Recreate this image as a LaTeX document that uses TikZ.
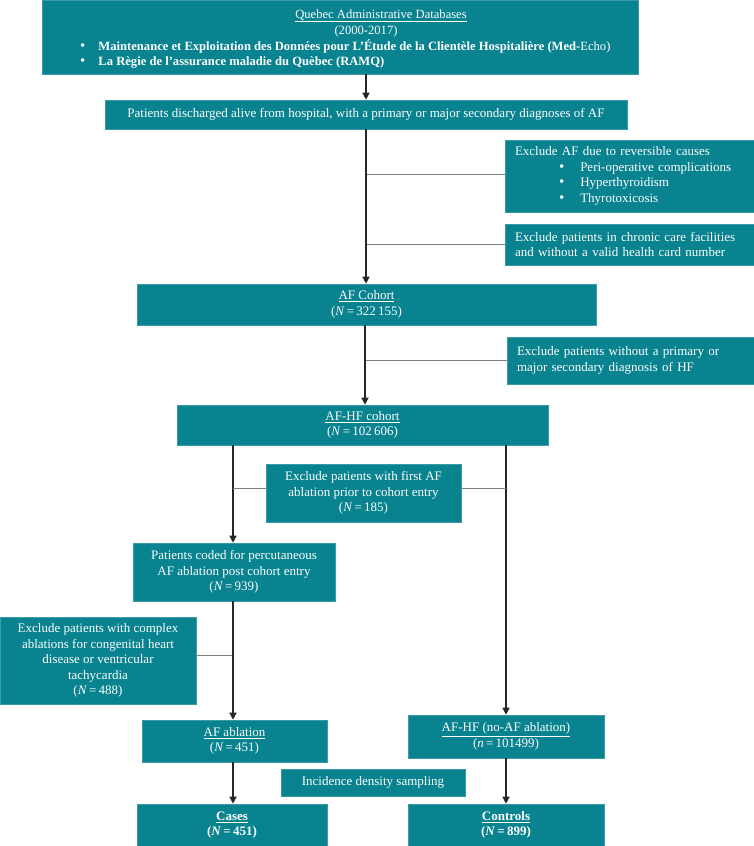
\documentclass[tikz,border=0pt]{standalone}
\usepackage{fontspec}
\setmainfont{Liberation Serif}
\usetikzlibrary{arrows.meta}
\definecolor{teal1}{RGB}{8,131,143}
\definecolor{linedark}{RGB}{38,38,38}
\definecolor{linegray}{RGB}{128,128,128}
\tikzset{
  box/.style={fill=teal1, draw=teal1!80!white, line width=0.6pt, text=white, inner sep=0pt,
    font=\fontsize{13}{15.5}\selectfont, align=center},
  lbox/.style={box, align=left},
  txt/.style={text=white, inner sep=0pt, font=\fontsize{12.6}{15}\selectfont},
  arr/.style={draw=linedark, line width=1.3pt, -{Triangle[length=7pt,width=7pt]}},
  branch/.style={draw=linegray, line width=1pt}
}
\newcommand{\Nv}[1]{(\textit{N}\,=\,#1)}
\newcommand{\bul}{{\fontsize{15}{15}\selectfont\textbullet}}
\begin{document}
\begin{tikzpicture}[x=1pt,y=-1pt]
\useasboundingbox (0,0) rectangle (754,846);
% top box
\node[box, minimum width=596pt, minimum height=74pt] (src) at (340,37) {};
\node[txt, anchor=base] (srct) at (381,18) {\underline{Quebec Administrative Databases}};
\node[txt, anchor=base] (srcy) at (366,34) {(2000-2017)};
\node[txt, anchor=base west] (srcb1) at (80,50) {\bul\hspace{13pt}\textbf{Maintenance et Exploitation des Données pour L’Étude de la Clientèle Hospitalière (Med-}Echo)};
\node[txt, anchor=base west] (srcb2) at (80,65) {\bul\hspace{13pt}\textbf{La Règie de l’assurance maladie du Quèbec (RAMQ)}};
% discharged
\node[box, minimum width=522pt, minimum height=29pt] (dis) at (366,114.5) {Patients discharged alive from hospital, with a primary or major secondary diagnoses of AF};
% exclusions right
\node[lbox, minimum width=249pt, minimum height=72pt, text width=229pt] (ex1) at (629.5,176)
  {Exclude AF due to reversible causes\\
   \hspace*{44pt}\bul\hspace{16pt}Peri-operative complications\\
   \hspace*{44pt}\bul\hspace{16pt}Hyperthyroidism\\
   \hspace*{44pt}\bul\hspace{16pt}Thyrotoxicosis};
\node[lbox, minimum width=249pt, minimum height=41pt, text width=229pt] (ex2) at (629.5,244.5)
  {Exclude patients in chronic care facilities\\and without a valid health card number};
% AF cohort
\node[box, minimum width=459pt, minimum height=41pt] (afc) at (366.5,304.5)
  {\underline{AF Cohort}\\\Nv{322\,155}};
\node[lbox, minimum width=247pt, minimum height=47pt, text width=227pt] (ex3) at (630.5,360.5)
  {Exclude patients without a primary or\\major secondary diagnosis of HF};
% AF-HF cohort
\node[box, minimum width=371pt, minimum height=40pt] (afhf) at (362.5,425)
  {\underline{AF-HF cohort}\\\Nv{102\,606}};
\node[box, minimum width=195pt, minimum height=58pt] (ex4) at (363.5,493)
  {Exclude patients with first AF\\ablation prior to cohort entry\\\Nv{185}};
% coded
\node[box, minimum width=202pt, minimum height=58pt] (coded) at (234,572)
  {Patients coded for percutaneous\\AF ablation post cohort entry\\\Nv{939}};
\node[box, minimum width=196pt, minimum height=87pt] (ex5) at (98,660.5)
  {Exclude patients with complex\\ablations for congenital heart\\disease or ventricular\\tachycardia\\\Nv{488}};
% ablation groups
\node[box, minimum width=185pt, minimum height=42pt] (abl) at (234.5,741)
  {\underline{AF ablation}\\\Nv{451}};
\node[box, minimum width=196pt, minimum height=43pt] (noabl) at (506,736.5)
  {\underline{AF-HF (no-AF ablation)}\\(\textit{n}\,=\,101499)};
\node[box, minimum width=184pt, minimum height=27pt] (ids) at (373,782.5)
  {Incidence density sampling};
\node[box, minimum width=190pt, minimum height=42pt] (cases) at (232,825)
  {\textbf{\underline{Cases}}\\\textbf{(\textit{N}\,=\,451)}};
\node[box, minimum width=196pt, minimum height=42pt] (ctrl) at (506,825)
  {\textbf{\underline{Controls}}\\\textbf{(\textit{N}\,=\,899)}};
% connectors
\coordinate (m1) at (dis.north |- src.south);
\draw[arr] (m1) -- (dis.north);
\draw[branch] (dis.south |- 0,174) coordinate (b1) -- (b1 -| ex1.west);
\draw[branch] (dis.south |- 0,244) coordinate (b2) -- (b2 -| ex2.west);
\draw[arr] (dis.south) -- (dis.south |- afc.north);
\coordinate (m2) at (365,0);
\draw[branch] (m2 |- ex3.west) -- (ex3.west);
\draw[arr] (m2 |- afc.south) -- (m2 |- afhf.north);
\coordinate (lx) at (233,0);
\coordinate (rx) at (noabl.north);
\draw[arr] (lx |- afhf.south) -- (lx |- coded.north);
\draw[arr] (rx |- afhf.south) -- (noabl.north);
\draw[branch] (lx |- 0,488) -- (ex4.west |- 0,488);
\draw[branch] (ex4.east |- 0,488) -- (rx |- 0,488);
\draw[branch] (ex5.east |- 0,655) -- (lx |- 0,655);
\draw[arr] (lx |- coded.south) -- (lx |- abl.north);
\draw[arr] (lx |- abl.south) -- (lx |- cases.north);
\draw[arr] (noabl.south) -- (ctrl.north);
\end{tikzpicture}
\end{document}
